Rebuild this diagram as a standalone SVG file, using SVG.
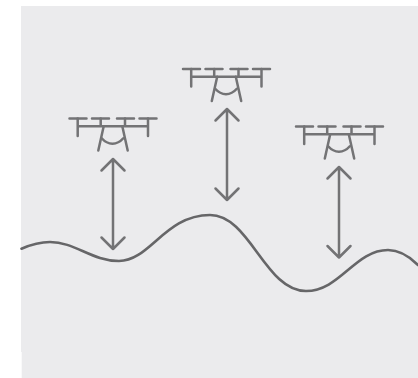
<svg xmlns="http://www.w3.org/2000/svg" width="418" height="378" viewBox="0 0 418 378">
<style>
.l{fill:none;stroke:#737375;stroke-width:2.500;stroke-linecap:round;stroke-linejoin:round}
.a{fill:none;stroke:#737375;stroke-width:2.500;stroke-linecap:round;stroke-linejoin:round}
.g{fill:none;stroke:#666668;stroke-width:2.600;stroke-linecap:round}
</style>
<defs>
<g id="drone" class="l">
<path d="M69.500 118.500H86.500M92 118.500H109M117 118.500H134M139.500 118.500H156.500"/>
<path d="M77.700 118.500V136M148 118.500V136M77.700 126.300H148M100.700 118.500V126.300M125 118.500V126.300"/>
<path d="M103.700 126.300L98.300 150.500M122.300 126.300L127.700 150.500"/>
<path d="M101.700 138.300C108 145.500 117 145.500 123.300 138.300"/>
</g>
</defs>
<path d="M21 6H418V378H21.700V352H21Z" fill="#ebebed"/>
<path id="terrain" class="g" d="M21.500 248.700C30 245 40 242 50 242C75 242 92 261 119 261C150 261 165 215 210 215C250 215 265 291 306 291C340 291 355 250 388 250C400 250 410 257 418 265"/>
<g id="drone1"><use href="#drone"/></g>
<g id="drone2"><use href="#drone" transform="translate(113.500,-49.500)"/></g>
<g id="drone3"><use href="#drone" transform="translate(226.500,8)"/></g>
<g id="connectors" class="a">
<path d="M113 159V249M101.500 170.500L113 159L124.500 170.500M101.500 237.500L113 249L124.500 237.500"/>
<path d="M227 109V200M215.500 120.500L227 109L238.500 120.500M215.500 188.500L227 200L238.500 188.500"/>
<path d="M339 167V257.500M327.500 178.500L339 167L350.500 178.500M327.500 246L339 257.500L350.500 246"/>
</g>
</svg>
